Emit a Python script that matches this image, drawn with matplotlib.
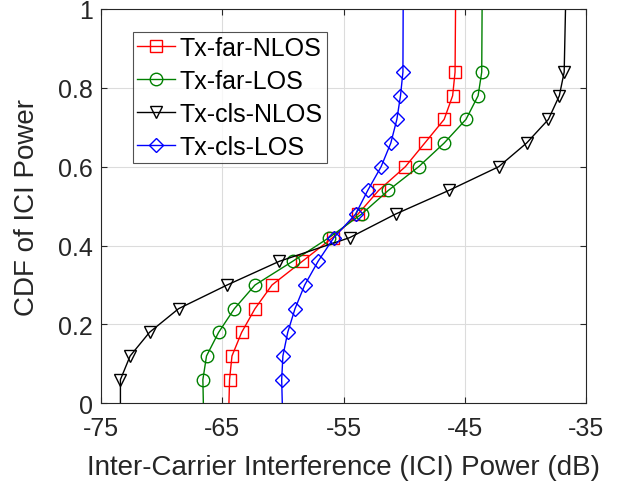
import numpy as np
import matplotlib.pyplot as plt

plt.rcParams['font.family'] = ['Liberation Sans', 'DejaVu Sans']

# CDF levels where the markers sit
cdf_levels = [0.06, 0.12, 0.18, 0.24, 0.30, 0.36, 0.42, 0.48,
              0.54, 0.60, 0.66, 0.72, 0.78, 0.84]

# ICI power (dB) at each CDF level
far_nlos = [-64.4, -64.2, -63.4, -62.3, -60.9, -58.4, -55.9, -53.8,
            -52.1, -49.9, -48.3, -46.7, -46.0, -45.8]
far_los = [-66.6, -66.3, -65.3, -64.0, -62.3, -59.2, -56.2, -53.5,
           -51.3, -48.8, -46.7, -44.9, -43.9, -43.6]
cls_nlos = [-73.4, -72.6, -71.0, -68.6, -64.6, -60.3, -54.5, -50.7,
            -46.3, -42.2, -39.9, -38.1, -37.2, -36.8]
cls_los = [-60.1, -60.0, -59.6, -59.0, -58.2, -57.1, -55.8, -54.0,
           -53.0, -51.9, -51.1, -50.6, -50.3, -50.1]

# min / max of each series (where the CDF leaves 0 and reaches 1)
far_nlos_ends = [-64.45, -45.76]
far_los_ends = [-66.56, -43.57]
cls_nlos_ends = [-73.4, -36.69]
cls_los_ends = [-60.05, -50.08]

x_ticks = [-75, -65, -55, -45, -35]
y_ticks = [0, 0.2, 0.4, 0.6, 0.8, 1]

series = [
    ('Tx-far-NLOS', far_nlos, far_nlos_ends, 'r', 's'),
    ('Tx-far-LOS', far_los, far_los_ends, 'g', 'o'),
    ('Tx-cls-NLOS', cls_nlos, cls_nlos_ends, 'k', 'v'),
    ('Tx-cls-LOS', cls_los, cls_los_ends, 'b', 'D'),
]

fig = plt.figure(figsize=(6.24, 4.85), dpi=100)
ax = fig.add_axes([0.1619, 0.1664, 0.7772, 0.813])

for name, xs, ends, col, mk in series:
    x = [ends[0]] + xs + [ends[1]]
    y = [0] + cdf_levels + [1]
    ax.plot(x, y, color=col, lw=1.0, marker=mk, markersize=9 if mk != 'D' else 7,
            markerfacecolor='none', markeredgecolor=col, markeredgewidth=1.0,
            markevery=list(range(1, len(x) - 1)), label=name)

ax.set_xlim(-75, -35)
ax.set_ylim(0, 1)
ax.set_xticks(x_ticks)
ax.set_xticklabels([str(v) for v in x_ticks])
ax.set_yticks(y_ticks)
ax.set_yticklabels(['%g' % v for v in y_ticks])
ax.grid(True, color='#dcdcdc', lw=0.8)
ax.set_axisbelow(True)
ax.tick_params(direction='in', top=True, right=True, labelsize=18, length=4,
               color='#262626', labelcolor='#262626')
ax.tick_params(axis='x', pad=9)
ax.tick_params(axis='y', pad=6)
for s in ax.spines.values():
    s.set_color('#262626')
ax.set_xlabel('Inter-Carrier Interference (ICI) Power (dB)', fontsize=20,
              color='#262626', labelpad=10)
ax.set_ylabel('CDF of ICI Power', fontsize=20, color='#262626', labelpad=13)

leg = ax.legend(loc='upper left', bbox_to_anchor=(0.066, 0.942), fontsize=18,
                frameon=True, fancybox=False, edgecolor='#262626',
                handlelength=1.5, handletextpad=0.2, borderpad=0.17,
                labelspacing=0.36, borderaxespad=0)
leg.get_frame().set_linewidth(0.8)

fig.savefig('out.png', dpi=100)
